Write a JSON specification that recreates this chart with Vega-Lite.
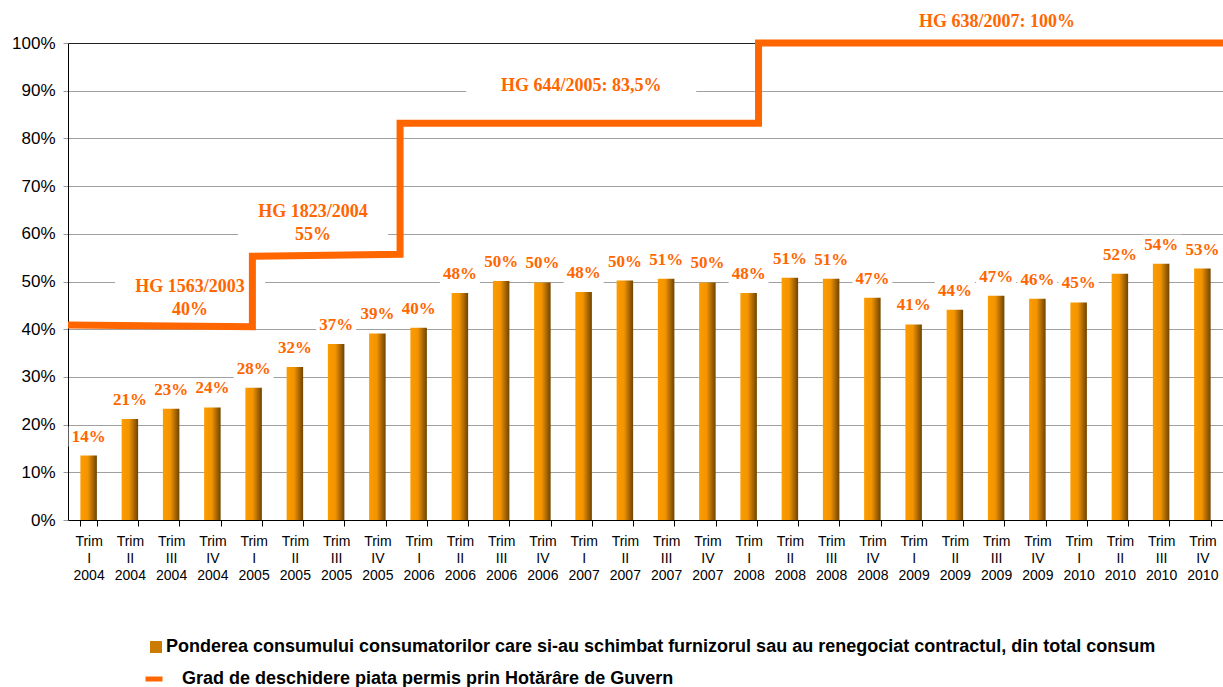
{
  "$schema": "https://vega.github.io/schema/vega-lite/v6.json",
  "width": 1155,
  "height": 477,
  "autosize": {"type": "none"},
  "padding": {"left": 68, "top": 43, "right": 0, "bottom": 167},
  "background": "white",
  "config": {"view": {"stroke": null}, "font": "Liberation Sans"},
  "datasets": {
    "bars": [
      {"period": "Trim I 2004", "value": 0.135, "label": "14%"},
      {"period": "Trim II 2004", "value": 0.212, "label": "21%"},
      {"period": "Trim III 2004", "value": 0.233, "label": "23%"},
      {"period": "Trim IV 2004", "value": 0.236, "label": "24%"},
      {"period": "Trim I 2005", "value": 0.277, "label": "28%"},
      {"period": "Trim II 2005", "value": 0.321, "label": "32%"},
      {"period": "Trim III 2005", "value": 0.369, "label": "37%"},
      {"period": "Trim IV 2005", "value": 0.391, "label": "39%"},
      {"period": "Trim I 2006", "value": 0.403, "label": "40%"},
      {"period": "Trim II 2006", "value": 0.476, "label": "48%"},
      {"period": "Trim III 2006", "value": 0.501, "label": "50%"},
      {"period": "Trim IV 2006", "value": 0.498, "label": "50%"},
      {"period": "Trim I 2007", "value": 0.478, "label": "48%"},
      {"period": "Trim II 2007", "value": 0.502, "label": "50%"},
      {"period": "Trim III 2007", "value": 0.506, "label": "51%"},
      {"period": "Trim IV 2007", "value": 0.498, "label": "50%"},
      {"period": "Trim I 2008", "value": 0.476, "label": "48%"},
      {"period": "Trim II 2008", "value": 0.508, "label": "51%"},
      {"period": "Trim III 2008", "value": 0.506, "label": "51%"},
      {"period": "Trim IV 2008", "value": 0.466, "label": "47%"},
      {"period": "Trim I 2009", "value": 0.410, "label": "41%"},
      {"period": "Trim II 2009", "value": 0.441, "label": "44%"},
      {"period": "Trim III 2009", "value": 0.470, "label": "47%"},
      {"period": "Trim IV 2009", "value": 0.464, "label": "46%"},
      {"period": "Trim I 2010", "value": 0.456, "label": "45%"},
      {"period": "Trim II 2010", "value": 0.516, "label": "52%"},
      {"period": "Trim III 2010", "value": 0.537, "label": "54%"},
      {"period": "Trim IV 2010", "value": 0.527, "label": "53%"}
    ],
    "steps": [
      {"pos": 0, "level": 0.409},
      {"pos": 4.47, "level": 0.405},
      {"pos": 4.47, "level": 0.553},
      {"pos": 8.05, "level": 0.557},
      {"pos": 8.05, "level": 0.832},
      {"pos": 16.74, "level": 0.832},
      {"pos": 16.74, "level": 1.0},
      {"pos": 28, "level": 1.0}
    ],
    "notes": [
      {"pos": 2.96, "yv": 0.4885, "text": "HG 1563/2003\n40%", "kind": "two"},
      {"pos": 5.94, "yv": 0.6457, "text": "HG 1823/2004\n55%", "kind": "two"},
      {"pos": 12.44, "yv": 0.9099, "text": "HG 644/2005:  83,5%", "kind": "one"},
      {"pos": 22.52, "yv": 1.044, "text": "HG 638/2007: 100%", "kind": "none"}
    ]
  },
  "layer": [
    {
      "data": {"name": "bars"},
      "encoding": {
        "x": {
          "field": "period", "type": "nominal", "sort": null,
          "scale": {"paddingInner": 0.6, "paddingOuter": 0.3},
          "axis": {
            "title": null, "labelAngle": 0, "tickBand": "extent",
            "labelExpr": "datum.value ? split(datum.value, ' ') : ''",
            "labelFont": "Liberation Sans", "labelFontSize": 14, "labelLineHeight": 17,
            "labelColor": "#000", "labelPadding": 8, "labelBaseline": "top",
            "domainColor": "#000", "domainWidth": 1, "tickColor": "#000", "tickSize": 6,
            "grid": false
          }
        },
        "y": {
          "field": "value", "type": "quantitative",
          "scale": {"domain": [0, 1], "nice": false},
          "axis": {
            "title": null, "format": ".0%", "values": [0, 0.1, 0.2, 0.3, 0.4, 0.5, 0.6, 0.7, 0.8, 0.9, 1],
            "labelFont": "Liberation Sans", "labelFontSize": 17, "labelColor": "#000", "labelPadding": 8,
            "domainColor": "#000", "tickColor": "#999", "tickSize": 5,
            "grid": true, "gridColor": {"condition": {"test": "datum.value == 1", "value": "#222"}, "value": "#A0A0A0"}, "gridWidth": 1
          }
        }
      },
      "layer": [
        {
          "mark": {
            "type": "bar",
            "color": {
              "gradient": "linear", "x1": 0, "y1": 0, "x2": 1, "y2": 0,
              "stops": [
                {"offset": 0, "color": "#FC9C00"},
                {"offset": 0.45, "color": "#F39400"},
                {"offset": 1, "color": "#6E4300"}
              ]
            }
          }
        },
        {
          "mark": {"type": "bar", "strokeWidth": 0},
          "encoding": {
            "y": {"datum": 0},
            "y2": {"datum": 0},
            "fill": {
              "datum": "Ponderea consumului consumatorilor care si-au schimbat furnizorul sau au renegociat contractul, din total consum",
              "scale": {"range": ["#C97C00"]},
              "legend": {
                "orient": "none", "legendX": 79, "legendY": 595, "title": null, "padding": 0,
                "symbolType": "square", "symbolSize": 144, "symbolStrokeWidth": 0,
                "labelFont": "Liberation Sans", "labelFontWeight": "bold", "labelFontSize": 18,
                "labelColor": "#000", "labelLimit": 1200, "labelOffset": 1
              }
            }
          }
        },
        {
          "mark": {
            "type": "point", "shape": "M-1,-0.5L1,-0.5L1,0.5L-1,0.5Z", "filled": true,
            "fill": "white", "opacity": 1, "size": 1600, "yOffset": -19, "strokeWidth": 0
          }
        },
        {
          "mark": {
            "type": "text", "font": "Liberation Serif", "fontWeight": "bold", "fontSize": 17,
            "color": "#FF6600", "baseline": "middle", "dy": -19
          },
          "encoding": {"text": {"field": "label"}}
        }
      ]
    },
    {
      "encoding": {
        "x": {"field": "pos", "type": "quantitative", "scale": {"domain": [0, 28], "nice": false, "zero": false}, "axis": null}
      },
      "layer": [
        {
          "data": {"name": "notes"},
          "transform": [{"filter": "datum.kind == 'two'"}],
          "mark": {
            "type": "point", "shape": "M-1,-0.33L1,-0.33L1,0.33L-1,0.33Z", "filled": true,
            "fill": "white", "opacity": 1, "size": 22500, "strokeWidth": 0, "yOffset": 11
          },
          "encoding": {"y": {"field": "yv", "type": "quantitative"}}
        },
        {
          "data": {"name": "notes"},
          "transform": [{"filter": "datum.kind == 'one'"}],
          "mark": {
            "type": "point", "shape": "M-1,-0.1L1,-0.1L1,0.1L-1,0.1Z", "filled": true,
            "fill": "white", "opacity": 1, "size": 52900, "strokeWidth": 0
          },
          "encoding": {"y": {"field": "yv", "type": "quantitative"}}
        },
        {
          "data": {"name": "steps"},
          "mark": {"type": "line", "strokeWidth": 7, "strokeJoin": "miter", "strokeCap": "butt"},
          "encoding": {
            "y": {"field": "level", "type": "quantitative"},
            "stroke": {
              "datum": "Grad de deschidere piata permis prin Hotărâre de Guvern",
              "scale": {"range": ["#FF6600"]},
              "legend": {
                "orient": "none", "legendX": 75, "legendY": 625, "title": null, "padding": 0,
                "symbolType": "stroke", "symbolSize": 289, "symbolStrokeWidth": 5,
                "labelFont": "Liberation Sans", "labelFontWeight": "bold", "labelFontSize": 18,
                "labelColor": "#000", "labelLimit": 1200, "labelOffset": 17
              }
            }
          }
        },
        {
          "data": {"name": "notes"},
          "mark": {
            "type": "text", "font": "Liberation Serif", "fontWeight": "bold", "fontSize": 18,
            "color": "#FF6600", "baseline": "middle", "lineBreak": "\n", "lineHeight": 23
          },
          "encoding": {
            "y": {"field": "yv", "type": "quantitative"},
            "text": {"field": "text"}
          }
        }
      ]
    }
  ],
  "resolve": {"scale": {"x": "independent", "fill": "independent", "stroke": "independent"}}
}
